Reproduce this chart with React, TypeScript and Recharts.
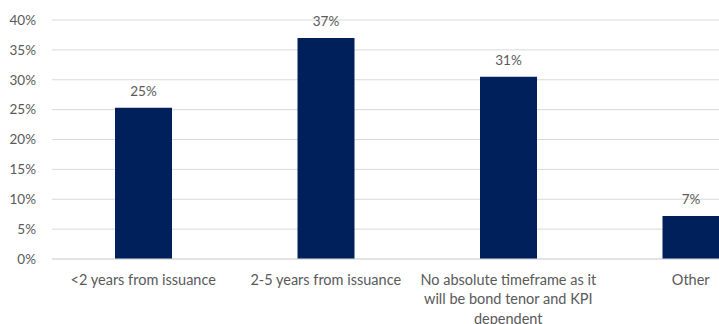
import React from 'react';
import { BarChart, Bar, XAxis, YAxis, CartesianGrid, LabelList } from 'recharts';

const categories = [
    '<2 years from issuance',
    '2-5 years from issuance',
    'No absolute timeframe as it\nwill be bond tenor and KPI\ndependent',
    'Other',
];
const shares = [25.3, 37.0, 30.5, 7.2];
const yTicks = [0, 5, 10, 15, 20, 25, 30, 35, 40];

const data = categories.map((name, i) => ({ name, value: shares[i] }));

const FONT = 'Lato, "Open Sans", sans-serif';
const TEXT = '#595959';

const CategoryTick = ({ x, y, payload }: { x?: number; y?: number; payload?: { value: string } }) => {
    const lines = String(payload?.value ?? '').split('\n');
    return (
        <text x={x} y={y} textAnchor="middle" fill={TEXT} fontSize={14.5} fontFamily={FONT}>
            {lines.map((line, i) => (
                <tspan key={i} x={x} dy={i === 0 ? 17.5 : 19.5}>{line}</tspan>
            ))}
        </text>
    );
};

export default function App() {
    return (
        <div style={{ position: 'absolute', left: 0, top: 0, width: 719, height: 324, overflow: 'hidden', background: '#fff' }}>
            <BarChart
                width={782}
                height={324}
                data={data}
                margin={{ top: 20, right: 0, bottom: 0, left: 0 }}
            >
                <CartesianGrid vertical={false} stroke="#d9d9d9" strokeWidth={1} />
                <XAxis
                    dataKey="name"
                    interval={0}
                    axisLine={{ stroke: '#d9d9d9' }}
                    tickLine={false}
                    height={65}
                    tick={<CategoryTick />}
                />
                <YAxis
                    width={52}
                    domain={[0, 40]}
                    ticks={yTicks}
                    tickFormatter={(v: number) => `${v}%`}
                    axisLine={false}
                    tickLine={false}
                    tickMargin={10}
                    tick={{ fill: TEXT, fontSize: 13.5, fontFamily: FONT }}
                />
                <Bar dataKey="value" fill="#00205B" barSize={57} isAnimationActive={false}>
                    <LabelList
                        dataKey="value"
                        position="top"
                        offset={12}
                        formatter={(v: number) => `${Math.round(v)}%`}
                        fill={TEXT}
                        fontSize={13.5}
                        fontFamily={FONT}
                    />
                </Bar>
            </BarChart>
        </div>
    );
}
